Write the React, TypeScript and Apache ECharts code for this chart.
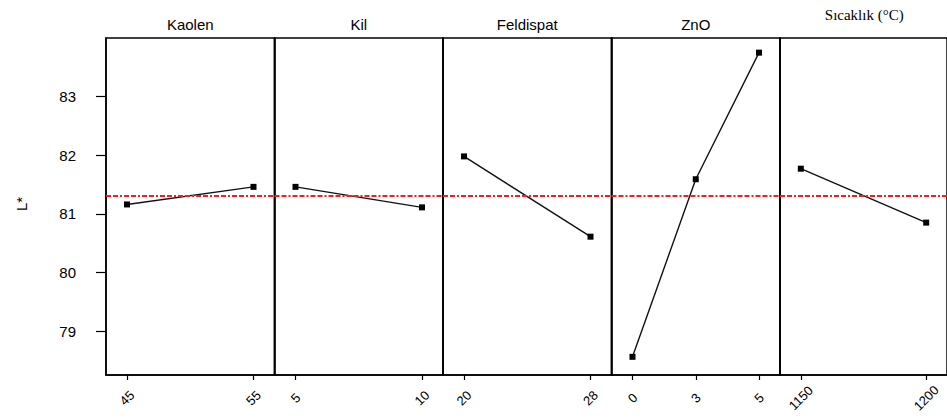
import React, { useEffect, useRef } from 'react';
import * as echarts from 'echarts';

const factorNames = ['Kaolen', 'Kil', 'Feldispat', 'ZnO', 'Sıcaklık (°C)'];
const kaolenLevels = ['45', '55'];
const kaolenMeans = [81.16, 81.46];
const kilLevels = ['5', '10'];
const kilMeans = [81.46, 81.11];
const feldispatLevels = ['20', '28'];
const feldispatMeans = [81.98, 80.61];
const znoLevels = ['0', '3', '5'];
const znoMeans = [78.56, 81.59, 83.75];
const sicaklikLevels = ['1150', '1200'];
const sicaklikMeans = [81.77, 80.85];
const grandMean = 81.3;
const yTickValues = [79, 80, 81, 82, 83];
const yMin = 78.25;
const yMax = 84.0;
const yAxisTitle = 'L*';

const panelLevels = [kaolenLevels, kilLevels, feldispatLevels, znoLevels, sicaklikLevels];
const panelMeans = [kaolenMeans, kilMeans, feldispatMeans, znoMeans, sicaklikMeans];

export default function App() {
  const ref = useRef<HTMLDivElement>(null);
  useEffect(() => {
    if (!ref.current) return;
    const chart = echarts.init(ref.current, undefined, { renderer: 'svg' });
    const gridLeft = 106;
    const panelW = 168.5;
    const gridTop = 38;
    const gridH = 337;
    const padPx = 21;
    const font = 'Arial, "Liberation Sans", sans-serif';

    const grids: any[] = [];
    const xAxes: any[] = [];
    const yAxes: any[] = [];
    const series: any[] = [];
    const graphics: any[] = [];

    panelLevels.forEach((levels, i) => {
      const n = levels.length;
      const p = (padPx * (n - 1)) / (panelW - 2 * padPx);
      grids.push({
        left: gridLeft + i * panelW,
        width: panelW,
        top: gridTop,
        height: gridH,
        show: true,
        borderColor: '#000',
        borderWidth: 1.5,
        backgroundColor: 'transparent',
      });
      const idx = levels.map((_, j) => j + 1);
      xAxes.push({
        type: 'value',
        gridIndex: i,
        min: 1 - p,
        max: n + p,
        splitLine: { show: false },
        axisLine: { show: true, onZero: false, lineStyle: { color: '#000', width: 1.5 } },
        axisTick: { show: true, length: 5, customValues: idx, lineStyle: { color: '#000', width: 1.2 } },
        axisLabel: {
          show: true,
          customValues: idx,
          formatter: (v: number) => levels[Math.round(v) - 1] ?? '',
          rotate: 45,
          align: 'center',
          verticalAlign: 'middle',
          margin: 23,
          fontSize: 13,
          color: '#000',
          fontFamily: font,
        },
      });
      yAxes.push({
        type: 'value',
        gridIndex: i,
        min: yMin,
        max: yMax,
        splitLine: { show: false },
        axisLine: { show: true, lineStyle: { color: '#000', width: 1.5 } },
        axisTick: i === 0
          ? { show: true, length: 10, customValues: yTickValues, lineStyle: { color: '#000', width: 1.2 } }
          : { show: false },
        axisLabel: i === 0
          ? {
              show: true,
              customValues: yTickValues,
              margin: 30,
              fontSize: 15,
              color: '#000',
              fontFamily: font,
              padding: [0, 0, 6, 0],
            }
          : { show: false },
      });
      series.push({
        type: 'line',
        xAxisIndex: i,
        yAxisIndex: i,
        data: panelMeans[i].map((m, j) => [j + 1, m]),
        symbol: 'rect',
        symbolSize: 6,
        lineStyle: { color: '#111', width: 1.4 },
        itemStyle: { color: '#000' },
        z: 3,
        markLine: {
          silent: true,
          symbol: ['none', 'none'],
          label: { show: false },
          lineStyle: { color: '#f02020', width: 2, type: [5, 2, 5, 2, 2, 2] },
          data: [{ yAxis: grandMean }],
        },
      });
      const isLast = i === panelLevels.length - 1;
      graphics.push({
        type: 'text',
        x: gridLeft + i * panelW + panelW / 2,
        y: isLast ? 15 : 24,
        style: {
          text: factorNames[i],
          fontSize: isLast ? 15 : 15,
          fontFamily: isLast ? '"Liberation Serif", "Times New Roman", serif' : font,
          fill: '#000',
          align: 'center',
          verticalAlign: 'middle',
        },
      });
    });

    graphics.push({
      type: 'text',
      x: 21,
      y: 204,
      rotation: Math.PI / 2,
      style: {
        text: yAxisTitle,
        fontSize: 15,
        fontFamily: font,
        fill: '#000',
        align: 'center',
        verticalAlign: 'middle',
      },
    });

    chart.setOption({
      animation: false,
      backgroundColor: '#fff',
      grid: grids,
      xAxis: xAxes,
      yAxis: yAxes,
      series,
      graphic: graphics,
    });
    return () => chart.dispose();
  }, []);
  return (
    <div
      ref={ref}
      style={{ position: 'absolute', left: 0, top: 0, width: 947, height: 419 }}
    />
  );
}
